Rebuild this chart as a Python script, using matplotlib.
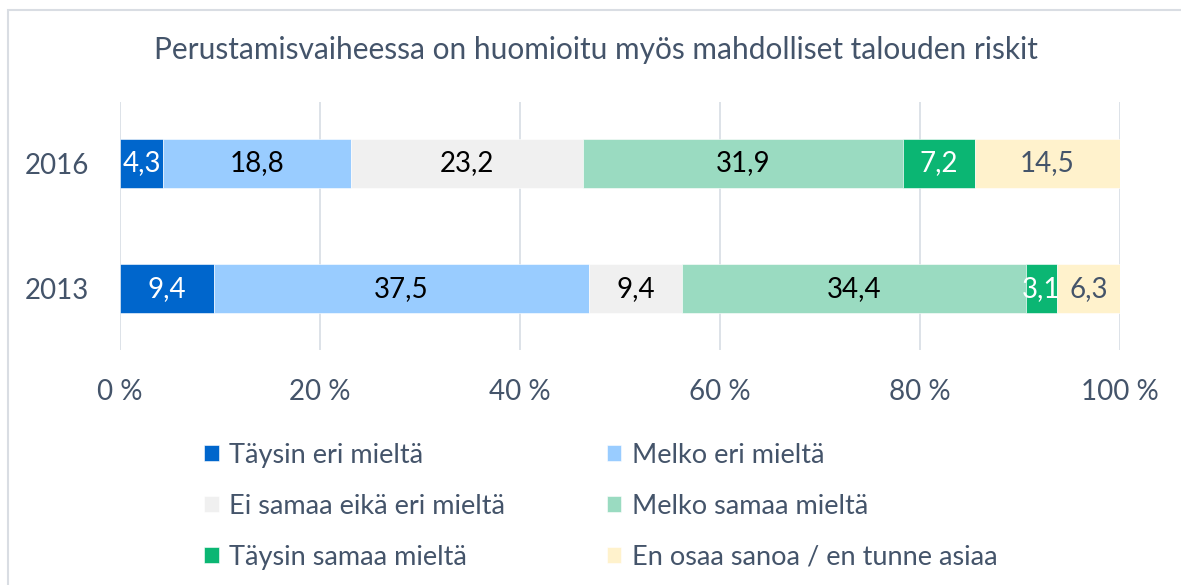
import numpy as np
import matplotlib.pyplot as plt
from matplotlib.patches import Rectangle

# data
years = ['2013', '2016']
categories = ['Täysin eri mieltä', 'Melko eri mieltä', 'Ei samaa eikä eri mieltä',
              'Melko samaa mieltä', 'Täysin samaa mieltä', 'En osaa sanoa / en tunne asiaa']
values_2013 = [9.4, 37.5, 9.4, 34.4, 3.1, 6.3]
values_2016 = [4.3, 18.8, 23.2, 31.9, 7.2, 14.5]
colors = ['#0066CC', '#99CCFF', '#F0F0F0', '#9ADBC1', '#0BB673', '#FFF2CC']
label_colors = ['white', 'black', 'black', 'black', 'white', '#44546A']

text_color = '#44546A'
grid_color = '#DDE2E8'
plt.rcParams['font.family'] = ['Lato', 'DejaVu Sans']

data = np.array([values_2013, values_2016])
shares = data / data.sum(axis=1, keepdims=True) * 100

fig = plt.figure(figsize=(11.81, 5.85), dpi=100)
ax = fig.add_axes([120 / 1181, 1 - 350 / 585, 1000 / 1181, 248 / 585])

y = np.arange(len(years))
left = np.zeros(len(years))
bars = []
for i, cat in enumerate(categories):
    b = ax.barh(y, shares[:, i], left=left, height=0.39, color=colors[i],
                edgecolor='white', linewidth=0.4, label=cat, zorder=2)
    bars.append(b)
    for j in range(len(years)):
        ax.text(left[j] + shares[j, i] / 2, y[j],
                f'{data[j, i]:.1f}'.replace('.', ','),
                ha='center', va='center', fontsize=20, color=label_colors[i], zorder=3)
    left += shares[:, i]

ax.set_xlim(0, 100)
ax.set_ylim(-0.49, 1.49)
ax.set_xticks(np.arange(0, 101, 20))
ax.set_xticklabels([f'{t} %' for t in range(0, 101, 20)])
ax.set_yticks(y)
ax.set_yticklabels(years)
ax.tick_params(axis='x', length=0, pad=21, labelsize=20, labelcolor=text_color)
ax.tick_params(axis='y', length=0, pad=22, labelsize=20, labelcolor=text_color)
ax.xaxis.grid(True, color=grid_color, linewidth=1.4, zorder=0)
ax.set_axisbelow(True)
for s in ax.spines.values():
    s.set_visible(False)

fig.text(0.505, 1 - 50 / 585, 'Perustamisvaiheessa on huomioitu myös mahdolliset talouden riskit',
         ha='center', va='center', fontsize=21.5, color=text_color)

# legend, row-major order in two columns
order = [0, 2, 4, 1, 3, 5]
leg = fig.legend([bars[k] for k in order], [categories[k] for k in order],
                 ncol=2, loc='upper left', bbox_to_anchor=(193 / 1181, 1 - 432 / 585),
                 frameon=False, fontsize=19.5, labelcolor=text_color,
                 handlelength=0.55, handleheight=0.55, handletextpad=0.37,
                 labelspacing=0.96, columnspacing=3.76, borderaxespad=0)

# chart border
fig.patches.append(Rectangle((8 / 1181, -0.1), 1.2, 1.1 - 10 / 585,
                             transform=fig.transFigure, fill=False,
                             edgecolor='#D9DDE3', linewidth=1.5, figure=fig))

fig.savefig('out.png', dpi=100)
